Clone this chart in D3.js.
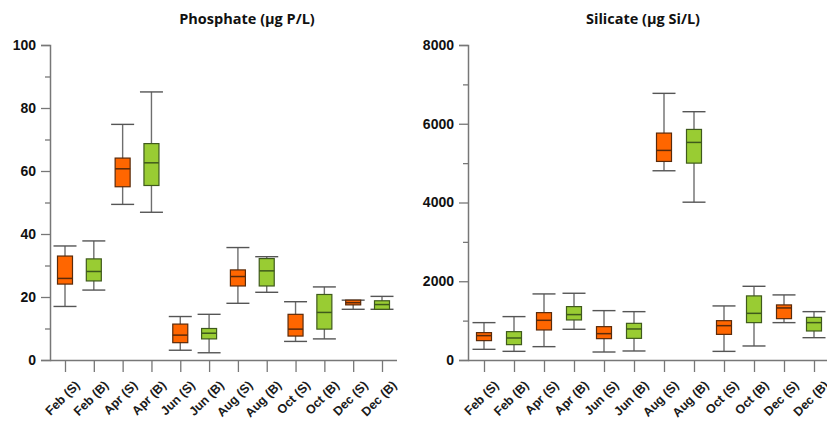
<!DOCTYPE html>
<html>
<head>
<meta charset="utf-8">
<script src="https://cdn.jsdelivr.net/npm/d3@7"></script>
<style>
  body { margin: 0; background: #fff; }
  svg { display: block; }
  .title { font-family: "Open Sans", sans-serif; font-weight: bold; font-size: 14.5px; fill: #111; }
  .ylab { font-family: "Liberation Sans", Arial, sans-serif; font-weight: bold; font-size: 14px; fill: #111; }
  .xlab { font-family: "Liberation Sans", Arial, sans-serif; font-weight: bold; font-size: 12.5px; fill: #1a1a1a; }
</style>
</head>
<body>
<svg id="chart" width="827" height="422"></svg>
<script>
const categories = ["Feb (S)", "Feb (B)", "Apr (S)", "Apr (B)", "Jun (S)", "Jun (B)",
  "Aug (S)", "Aug (B)", "Oct (S)", "Oct (B)", "Dec (S)", "Dec (B)"];

// [whisker low, Q1, median, Q3, whisker high]
const phosphate = [
  [17.0, 24.1, 25.9, 33.0, 36.2],
  [22.2, 25.1, 28.1, 32.1, 37.8],
  [49.4, 55.0, 60.7, 64.1, 74.8],
  [46.9, 55.4, 62.6, 68.7, 85.1],
  [3.1, 5.5, 7.9, 11.4, 13.8],
  [2.3, 6.7, 8.5, 10.0, 14.5],
  [18.0, 23.5, 26.5, 28.6, 35.7],
  [21.5, 23.5, 28.3, 32.2, 32.8],
  [5.9, 7.6, 9.8, 14.5, 18.5],
  [6.7, 9.8, 15.1, 20.8, 23.2],
  [16.1, 17.5, 18.2, 19.0, 19.0],
  [16.1, 16.1, 17.6, 18.8, 20.2]
];

const silicate = [
  [271, 492, 619, 695, 949],
  [220, 390, 559, 720, 1102],
  [339, 763, 1008, 1203, 1678],
  [780, 1017, 1153, 1356, 1695],
  [203, 542, 669, 847, 1254],
  [229, 550, 788, 931, 1228],
  [4806, 5043, 5323, 5763, 6772],
  [4008, 5000, 5526, 5856, 6306],
  [219, 651, 872, 999, 1373],
  [356, 949, 1185, 1628, 1872],
  [949, 1050, 1322, 1399, 1653],
  [567, 737, 949, 1083, 1228]
];

const phosTicks = [0, 20, 40, 60, 80, 100];
const silTicks = [0, 2000, 4000, 6000, 8000];

const colors = ["#ff6600", "#99cc33"];
const edges = ["#5a2a0a", "#3f5a1c"];

const svg = d3.select("#chart");

function panel(opt) {
  const g = svg.append("g");
  const x = d3.scalePoint().domain(categories).range(opt.xr);
  const y = d3.scaleLinear().domain([0, opt.max]).range([360, 45]);

  // minor y ticks
  g.append("g")
    .attr("transform", `translate(${opt.ax},0)`)
    .call(d3.axisLeft(y).tickValues(opt.minor).tickSize(5).tickFormat(""))
    .call(a => a.select(".domain").remove())
    .selectAll("line").attr("stroke", "#777").attr("stroke-width", 1.3);

  // major y axis
  const ya = g.append("g")
    .attr("transform", `translate(${opt.ax},0)`)
    .call(d3.axisLeft(y).tickValues(opt.ticks).tickSize(9).tickPadding(5).tickFormat(d3.format("d")));
  ya.select(".domain").attr("stroke", "#777").attr("stroke-width", 1.5);
  ya.selectAll("line").attr("stroke", "#777").attr("stroke-width", 1.3);
  ya.selectAll("text").attr("class", "ylab").attr("fill", null);

  // x axis
  const xa = g.append("g")
    .attr("transform", "translate(0,360)")
    .call(d3.axisBottom(x).tickSize(12).tickSizeOuter(0));
  xa.select(".domain").attr("stroke", "#777").attr("stroke-width", 1.5)
    .attr("d", `M${opt.ax},0.5H${opt.xend}`);
  xa.selectAll("line").attr("stroke", "#777").attr("stroke-width", 1.3);
  xa.selectAll("text")
    .attr("class", "xlab").attr("fill", null)
    .attr("text-anchor", "end")
    .attr("x", 0).attr("y", 0).attr("dy", 0)
    .attr("transform", "translate(15,26) rotate(-45)");

  // boxes
  const bw = 15, cw = 23;
  const b = g.selectAll(".box").data(opt.data).join("g")
    .attr("transform", (d, i) => `translate(${x(categories[i])},0)`);
  b.append("line")
    .attr("y1", d => y(d[0])).attr("y2", d => y(d[4]))
    .attr("stroke", "#6e6e6e").attr("stroke-width", 1.4);
  b.append("line").attr("x1", -cw / 2).attr("x2", cw / 2)
    .attr("y1", d => y(d[4])).attr("y2", d => y(d[4]))
    .attr("stroke", "#555").attr("stroke-width", 1.4);
  b.append("line").attr("x1", -cw / 2).attr("x2", cw / 2)
    .attr("y1", d => y(d[0])).attr("y2", d => y(d[0]))
    .attr("stroke", "#555").attr("stroke-width", 1.4);
  b.append("rect")
    .attr("x", -bw / 2).attr("width", bw)
    .attr("y", d => y(d[3])).attr("height", d => Math.max(1, y(d[1]) - y(d[3])))
    .attr("fill", (d, i) => colors[i % 2])
    .attr("stroke", (d, i) => edges[i % 2]).attr("stroke-width", 1.2);
  b.append("line").attr("x1", -bw / 2).attr("x2", bw / 2)
    .attr("y1", d => y(d[2])).attr("y2", d => y(d[2]))
    .attr("stroke", (d, i) => edges[i % 2]).attr("stroke-width", 1.5);

  svg.append("text").attr("class", "title")
    .attr("x", opt.tx).attr("y", 24).attr("text-anchor", "middle")
    .text(opt.title);
}

panel({
  data: phosphate, max: 100, ticks: phosTicks,
  minor: d3.range(10, 100, 20),
  ax: 50, xr: [65, 382], xend: 397, tx: 247,
  title: "Phosphate (µg P/L)"
});

panel({
  data: silicate, max: 8000, ticks: silTicks,
  minor: d3.range(1000, 8000, 2000),
  ax: 468, xr: [484, 814], xend: 827, tx: 643,
  title: "Silicate (µg Si/L)"
});
</script>
</body>
</html>
